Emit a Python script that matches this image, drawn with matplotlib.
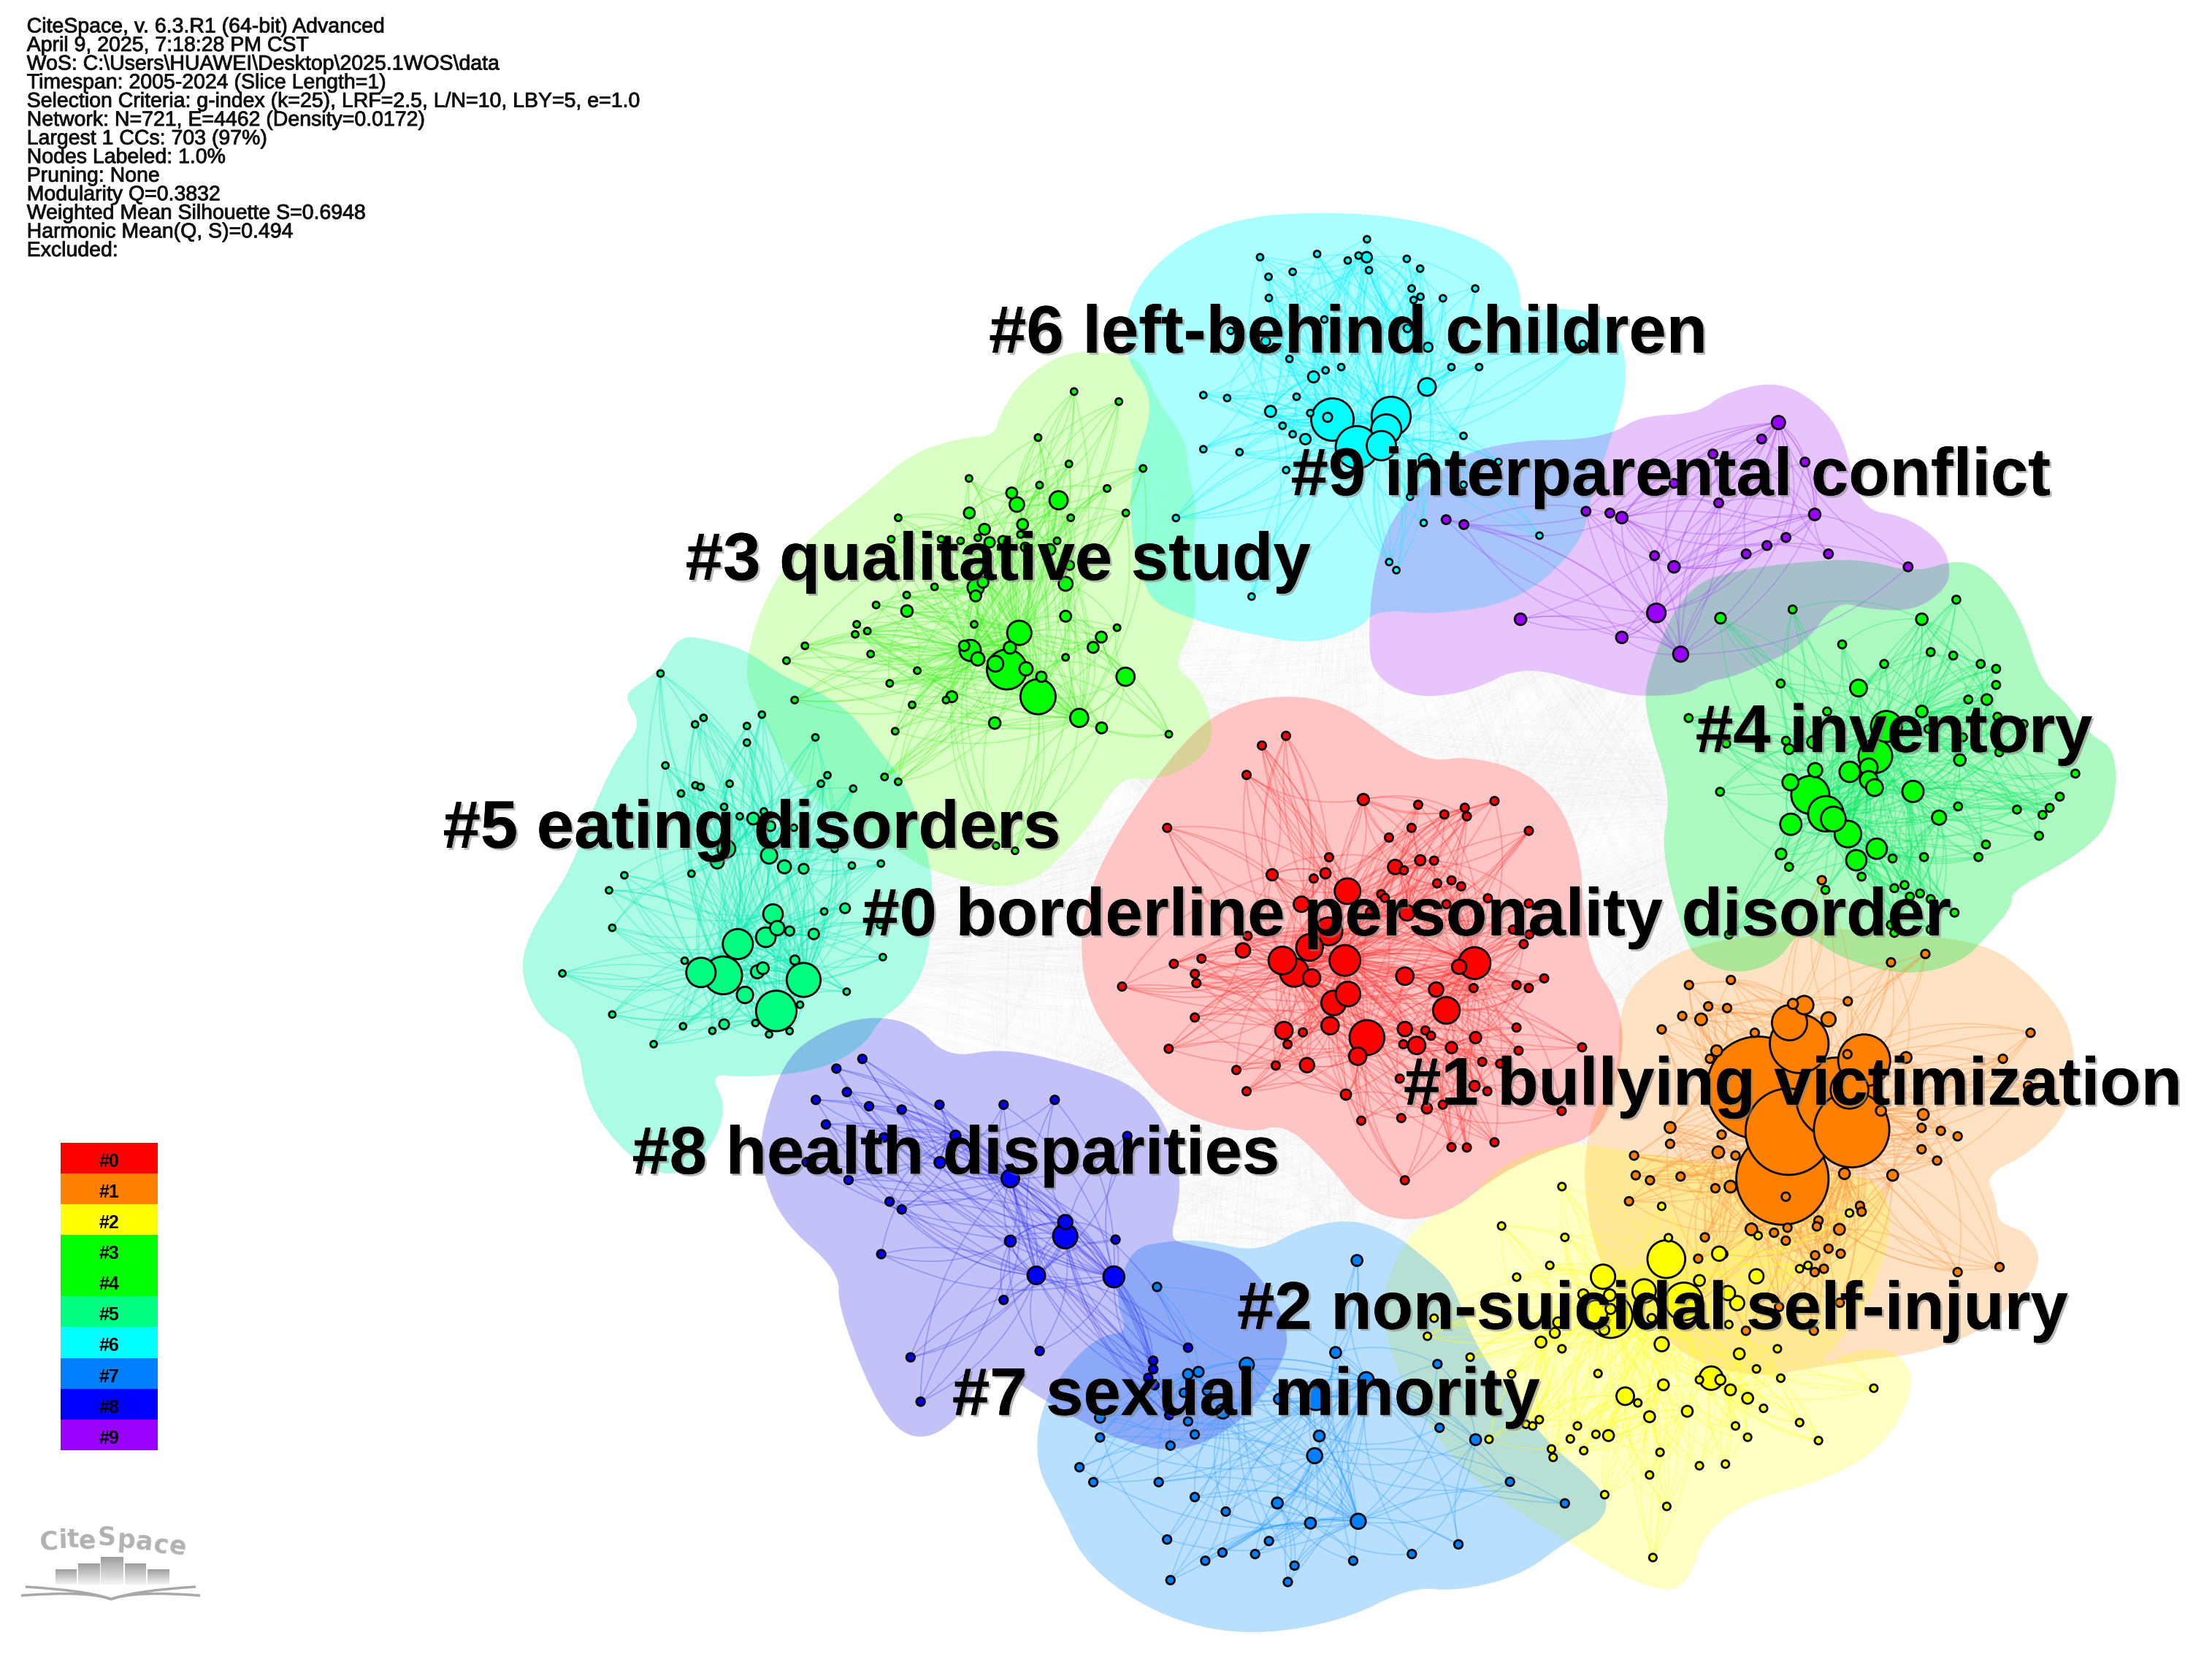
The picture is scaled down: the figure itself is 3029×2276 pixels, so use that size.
import numpy as np
import matplotlib
matplotlib.use('Agg')
import matplotlib.pyplot as plt
import matplotlib.patheffects as pe
from matplotlib.collections import PathCollection, PatchCollection
from matplotlib.patches import Circle, PathPatch, Rectangle
from matplotlib.path import Path

WIDTH, HEIGHT = 3029, 2276
DISP = WIDTH / 1568  # overview picture -> reference pixels

meta_lines = [
    'CiteSpace, v. 6.3.R1 (64-bit) Advanced',
    'April 9, 2025, 7:18:28 PM CST',
    'WoS: C:\\Users\\HUAWEI\\Desktop\\2025.1WOS\\data',
    'Timespan: 2005-2024 (Slice Length=1)',
    'Selection Criteria: g-index (k=25), LRF=2.5, L/N=10, LBY=5, e=1.0',
    'Network: N=721, E=4462 (Density=0.0172)',
    'Largest 1 CCs: 703 (97%)',
    'Nodes Labeled: 1.0%',
    'Pruning: None',
    'Modularity Q=0.3832',
    'Weighted Mean Silhouette S=0.6948',
    'Harmonic Mean(Q, S)=0.494',
    'Excluded:',
]

cluster_ids = ['#0', '#1', '#2', '#3', '#4', '#5', '#6', '#7', '#8', '#9']
node_colors = ['#ff0000', '#ff8000', '#ffff00', '#00ff00', '#00ff00',
               '#00ff80', '#00ffff', '#0080ff', '#0000ff', '#9900ff']
edge_colors = ['#ff3030', '#ff9030', '#ffff20', '#40f020', '#00e860',
               '#00e8b0', '#00f0ff', '#2098ff', '#3030f0', '#a040f0']
hull_colors = ['#ff0000', '#ff8200', '#ffff00', '#5bff08', '#00ec40',
               '#00f5b3', '#00ffff', '#008ffa', '#0000e8', '#9e0cf1']
hull_alpha = [.23, .23, .23, .23, .33, .33, .33, .28, .24, .24]

# cluster labels: text, left edge and baseline in the overview picture
label_text = ['#0 borderline personality disorder', '#1 bullying victimization',
              '#2 non-suicidal self-injury', '#3 qualitative study', '#4 inventory',
              '#5 eating disorders', '#6 left-behind children', '#7 sexual minority',
              '#8 health disparities', '#9 interparental conflict']
label_x = [611, 995, 877, 486, 1202, 314, 701, 675, 448, 915]
label_y = [663, 783, 942, 411, 533, 601, 250, 1003, 832, 351]

# hull outlines
hull0 = [(905,492),(950,498),(990,528),(1016,540),(1038,536),(1078,545),(1105,568),(1120,605),(1122,640),(1127,681),(1147,710),(1152,745),(1135,805),(1096,816),(1060,834),(1027,860),(994,866),(965,856),(943,827),(911,796),(885,804),(830,787),(798,750),(772,712),(765,670),(772,630),(795,585),(835,530),(865,503)]
hull1 = [(1194,671),(1158,695),(1147,722),(1148,760),(1128,790),(1122,832),(1128,876),(1140,909),(1176,945),(1202,966),(1247,977),(1292,968),(1381,957),(1431,924),(1448,894),(1437,873),(1416,867),(1415,850),(1407,833),(1440,817),(1467,787),(1472,752),(1464,719),(1434,686),(1404,668),(1351,662),(1306,658),(1262,660)]
hull2 = [(1128,811),(1190,822),(1260,830),(1324,832),(1341,853),(1338,885),(1322,930),(1295,960),(1292,968),(1324,954),(1348,960),(1358,983),(1336,1025),(1295,1049),(1238,1064),(1208,1087),(1199,1117),(1184,1130),(1149,1117),(1112,1093),(1060,1062),(1024,1028),(990,975),(978,925),(990,890),(1009,864),(1039,853),(1063,826),(1098,812)]
hull3 = [(758,248),(795,251),(810,257),(820,284),(841,312),(842,334),(849,362),(844,394),(849,426),(844,448),(832,473),(848,484),(860,512),(857,533),(835,548),(814,553),(794,551),(770,590),(724,634),(658,618),(628,597),(593,581),(559,548),(538,505),(526,475),(543,420),(571,383),(612,351),(646,321),(683,310),(705,309),(709,293),(726,267)]
hull4 = [(1389,396),(1411,406),(1433,438),(1447,483),(1464,497),(1480,520),(1501,532),(1498,581),(1474,606),(1426,631),(1426,643),(1410,662),(1390,683),(1351,692),(1306,680),(1280,662),(1274,662),(1259,683),(1229,691),(1202,680),(1193,662),(1177,601),(1185,564),(1166,507),(1167,478),(1194,416),(1235,403),(1292,397),(1323,397),(1357,406)]
hull5 = [(481,450),(505,454),(529,461),(554,479),(582,491),(605,507),(623,532),(644,558),(660,615),(661,636),(658,682),(642,710),(623,723),(614,740),(582,759),(529,764),(503,761),(514,782),(510,802),(495,826),(470,835),(440,815),(415,780),(410,738),(383,724),(368,689),(376,659),(404,618),(418,578),(438,535),(455,514),(443,495),(448,488),(468,475)]
hull6 = [(802,206),(837,171),(883,153),(950,150),(1005,156),(1047,169),(1070,185),(1078,208),(1077,222),(1102,218),(1135,222),(1151,243),(1153,275),(1144,305),(1128,351),(1121,386),(1079,425),(1022,436),(975,432),(964,446),(929,457),(883,449),(848,440),(818,428),(810,411),(802,383),(801,336),(820,284),(795,251)]
hull7 = [(891,888),(924,870),(959,864),(989,875),(1009,891),(1030,909),(1045,954),(1092,1019),(1140,1058),(1137,1078),(1110,1093),(1078,1117),(1033,1128),(1000,1125),(950,1150),(880,1160),(820,1145),(770,1110),(751,1070),(734,1039),(737,999),(757,967),(781,946),(800,945),(790,920),(802,885),(826,880),(853,879)]
hull8 = [(614,720),(648,725),(672,750),(710,743),(757,753),(805,769),(826,796),(836,827),(836,854),(829,878),(841,882),(885,891),(916,943),(906,973),(879,1010),(835,1031),(790,1020),(751,999),(722,981),(700,965),(680,1007),(650,1023),(624,1002),(594,928),(595,901),(555,867),(540,830),(539,802),(556,751),(582,731)]
hull9 = [(1204,293),(1223,278),(1260,270),(1288,285),(1307,309),(1318,361),(1351,366),(1376,384),(1383,403),(1379,418),(1357,433),(1325,432),(1301,426),(1279,458),(1229,480),(1210,483),(1197,492),(1160,494),(1135,488),(1081,471),(1041,491),(1001,495),(973,478),(970,453),(973,409),(987,363),(1033,322),(1079,312),(1116,312),(1144,307),(1163,295)]

# nodes: (x, y, radius) for the labelled sizes, (x, y) for the small ones,
# each group read in the crop given by its frame (left, top, width, height)
frame0 = (1500, 1000, 1100, 800)
big0 = [(530,825,34),(740,625,31),(710,635,14),(487,618,30),(365,618,27),(418,583,26),(388,650,28),(465,732,24),(493,708,24),(685,752,26),(455,540,27),(492,432,25),(604,660,17),(665,696,14),(422,665,17),(458,793,17),(368,806,17),(604,802,14),(627,846,17),(512,875,17),(413,899,14),(742,825,11),(288,591,14),(345,388,11),(402,467,15),(585,367,14),(608,490,15),(523,186,11),(634,349,10),(449,384,10),(695,852,11),(489,978,10),(647,1015,10),(740,955,10),(540,490,12)]
small0 = [(372,15),(325,41),(295,120),(140,262),(630,200),(681,226),(721,208),(725,231),(779,190),(846,270),(573,288),(617,262),(456,341),(661,350),(602,376),(426,398),(667,411),(695,403),(714,419),(558,440),(565,450),(766,451),(685,467),(846,465),(815,535),(847,548),(836,574),(297,552),(207,613),(153,627),(194,654),(197,679),(52,688),(876,666),(822,684),(846,692),(738,692),(194,771),(822,798),(405,811),(375,843),(601,843),(644,806),(655,820),(826,860),(950,851),(143,855),(275,912),(352,900),(755,890),(790,895),(594,935),(295,969),(765,969),(678,1005),(910,1022),(519,1048),(597,1041),(695,1119),(725,1120),(779,1106),(604,1208)]

frame1 = (1950, 1280, 900, 900)
big1 = [(797,365,122),(855,582,110),(985,390,97),(1020,465,90),(870,470,103),(1050,300,62),(895,260,70),(872,210,42),(1015,370,45),(907,168,22),(965,202,17),(880,165,12),(1090,420,12),(1010,285,10),(1150,293,13),(661,202,14),(698,277,13),(587,460,13),(702,519,14),(731,601,14),(1003,570,13),(1118,574,13),(1191,429,13),(781,703,14),(991,703,13)]
small1 = [(632,120),(732,108),(567,226),(616,194),(678,171),(723,175),(789,234),(682,296),(1011,159),(1447,234),(1381,296),(1441,360),(1196,46),(1114,66),(710,477),(587,499),(501,527),(743,527),(505,574),(539,586),(612,577),(695,605),(489,636),(670,722),(654,773),(714,762),(835,711),(867,699),(863,730),(863,625),(941,682),(937,696),(933,765),(965,749),(994,761),(954,797),(932,805),(1040,647),(1044,661),(1187,461),(1233,468),(1273,481),(1187,512),(1224,539),(1273,805),(1373,793),(768,945),(930,945),(847,888),(992,878),(637,887),(949,-130)]

frame2 = (1950, 1280, 900, 900)
big2 = [(578,774,45),(427,816,29),(445,910,52),(410,900,28),(525,850,28),(620,875,45),(725,855,17),(747,879,17),(685,1058,28),(480,1101,21),(704,761,17),(793,815,17),(657,825,13),(567,977,17),(752,1000,13),(571,1074,13),(731,1086,13),(772,1106,13),(628,1137,13),(538,1150,13),(440,1195,13),(279,972,13),(312,950,12),(707,1062,12),(443,860,14),(380,858,12),(320,925,12),(445,893,12),(543,915,10),(430,943,12)]
small2 = [(329,601),(567,648),(185,695),(336,722),(583,723),(797,718),(300,789),(221,817),(896,797),(916,789),(1015,664),(24,915),(8,958),(110,1008),(209,1048),(329,988),(415,1047),(657,1062),(793,1036),(851,1058),(843,988),(727,930),(1073,1082),(510,1117),(810,1130),(275,1157),(243,1168),(259,1172),(366,1172),(155,1204),(349,1203),(410,1192),(743,1172),(896,1164),(772,1199),(941,1207),(304,1227),(308,1247),(381,1231),(563,1235),(657,1267),(719,1263),(538,1289),(431,1336),(579,1364),(546,1486)]

frame3 = (1050, 450, 650, 650)
big3 = [(896,1216,58),(793,1126,66),(834,1005,40),(1185,1150,30),(1032,1286,30),(964,567,30),(803,1054,20),(755,1107,26),(856,1124,22),(907,1150,17),(697,1091,22),(672,1063,35),(652,1048,17),(690,855,27),(714,838,18),(690,883,18),(987,843,23),(987,950,18),(463,933,19),(826,581,24),(809,543,18),(669,609,18),(845,647,18),(719,663,18),(736,706,17),(1105,1019,18),(1078,1053,18),(753,1303,19),(1106,1319,18),(611,1216,18),(854,722,15),(935,730,18),(1000,782,15),(780,700,15)]
small3 = [(1015,208),(1163,241),(896,360),(998,447),(1243,462),(668,495),(901,517),(1124,528),(434,625),(1004,625),(1186,609),(838,680),(697,691),(411,696),(576,696),(640,701),(959,701),(554,853),(462,880),(361,913),(685,977),(297,977),(332,999),(292,1010),(1157,988),(126,1048),(343,1075),(987,1086),(65,1097),(497,1130),(406,1172),(92,1227),(592,1227),(480,1243),(424,1330),(1328,1340),(389,1481),(434,1497),(757,1708),(820,1725)]

frame4 = (1950, 550, 950, 750)
big4 = [(873,1126,43),(908,1180,40),(925,1195,28),(1020,1015,38),(1045,930,35),(962,1060,23),(1005,1047,20),(1005,1083,20),(1018,1105,19),(884,1055,16),(828,1090,18),(829,1210,24),(958,1238,30),(1023,1280,23),(977,1313,23),(1105,1116,24),(1164,1191,16),(982,820,19),(1211,1026,13),(1125,623,13),(670,620,12),(1272,853,12),(1125,887,13),(807,1295,12),(825,995,11),(880,975,14)]
small4 = [(1203,567),(833,595),(945,695),(1145,717),(1196,727),(1040,751),(1258,751),(1293,765),(806,807),(1293,811),(1230,853),(911,887),(598,906),(1296,902),(1355,923),(1140,937),(1218,961),(683,979),(818,971),(1300,1004),(1472,1065),(669,1117),(1437,1131),(1414,1163),(1340,1168),(1398,1183),(1207,1159),(1390,1243),(1270,1268),(1130,1304),(1253,1304),(1059,1308),(825,1332),(989,1360),(1063,1393),(1086,1384),(907,1398),(1121,1408),(1098,1417),(1145,1424),(1199,1463),(1055,1498),(1063,1521),(689,1526),(1145,1511)]

frame5 = (700, 850, 700, 700)
big5 = [(813,1197,62),(897,1102,52),(650,1088,58),(582,1079,45),(695,992,46),(803,900,30),(781,971,30),(816,943,22),(755,1077,20),(772,1066,18),(717,1148,25),(791,720,25),(838,755,20),(897,761,15),(928,961,16),(653,1238,15),(660,700,27),(632,740,20),(742,607,18),(1024,882,15),(870,1041,14),(854,952,14),(795,630,15)]
small5 = [(458,162),(590,298),(564,318),(723,323),(769,288),(723,374),(473,444),(565,505),(581,510),(670,500),(521,530),(653,571),(701,600),(775,585),(950,500),(970,474),(1049,515),(1045,751),(1134,745),(867,635),(992,700),(347,781),(553,776),(300,827),(310,942),(960,892),(1132,933),(532,1043),(157,1082),(1140,1032),(1029,1138),(886,1178),(310,1208),(527,1244),(617,1258),(749,1234),(854,1259),(791,1269),(437,1299),(933,358)]

frame6 = (1550, 300, 700, 700)
big6 = [(615,615,65),(690,700,65),(795,605,60),(780,645,46),(765,695,45),(905,515,27),(425,590,17),(557,484,17),(532,675,16),(600,608,14),(900,740,20),(720,117,16),(845,335,12),(908,393,14),(410,375,14)]
small6 = [(721,62),(568,107),(393,117),(695,112),(662,127),(843,122),(884,152),(727,157),(493,162),(419,177),(858,213),(885,238),(864,248),(954,243),(1053,213),(420,242),(590,308),(303,343),(483,429),(594,464),(642,454),(980,454),(1065,454),(505,545),(219,540),(292,549),(547,595),(462,634),(493,660),(219,706),(330,715),(1017,665),(473,770),(1124,745),(853,852),(1017,815),(135,917),(895,932),(1250,971),(789,1052),(811,1077),(367,1158),(1383,383)]

frame7 = (1050, 1420, 900, 800)
big7 = [(1408,600,13),(1357,847,13),(1145,880,17),(1005,905,12),(1030,899,12),(1430,920,18),(1310,970,28),(1222,972,12),(1088,1005,17),(795,1022,12),(1318,1071,13),(1307,1124,18),(1218,1251,13),(1297,1305,13),(1411,1300,18),(1691,1081,13)]
small7 = [(931,671),(1050,950),(995,955),(1005,1032),(795,1075),(1021,1067),(963,1097),(746,1155),(779,1195),(935,1195),(1021,1235),(1095,1274),(955,1349),(1198,1353),(1087,1384),(1165,1388),(1046,1406),(1399,1406),(1539,1388),(1259,1419),(963,1458),(1243,1463),(1600,878),(1605,1049),(1773,1194),(1904,1252),(1650,1362)]

frame8 = (1050, 1420, 900, 800)
big8 = [(712,535,29),(828,644,25),(643,640,21),(581,380,21),(712,497,17),(581,548,13),(413,337,13),(450,265,12)]
small8 = [(228,59),(166,85),(191,148),(117,169),(244,186),(322,195),(412,182),(565,182),(687,169),(141,235),(279,270),(860,266),(95,336),(195,384),(293,442),(322,463),(832,544),(273,583),(565,706),(651,843),(343,860),(367,979),(1005,834),(922,869),(922,892),(910,915),(925,935),(960,1015)]

frame9 = (1950, 550, 950, 750)
big9 = [(525,605,21),(580,723,17),(801,60,15),(883,323,13),(447,332,13),(565,473,13),(218,623,13),(447,675,13)]
small9 = [(763,107),(653,150),(861,173),(565,234),(666,290),(366,314),(420,319),(50,338),(90,352),(818,389),(775,412),(728,436),(914,436),(521,441),(1094,473)]

frames = [frame0, frame1, frame2, frame3, frame4, frame5, frame6, frame7, frame8, frame9]
bigs = [big0, big1, big2, big3, big4, big5, big6, big7, big8, big9]
smalls = [small0, small1, small2, small3, small4, small5, small6, small7, small8, small9]
hulls = [hull0, hull1, hull2, hull3, hull4, hull5, hull6, hull7, hull8, hull9]
small_radius = [8, 10, 9, 11, 9, 10, 10, 10, 10, 10]
near_links = [4, 4, 4, 4, 4, 4, 4, 2, 2, 2]
far_links = [3, 3, 3, 3, 3, 3, 3, 2, 2, 2]

# logo pieces
logo_letters = ['C', 'i', 't', 'e', 'S', 'p', 'a', 'c', 'e']
logo_x = [66, 86, 100, 119, 146, 172, 197, 220, 243]
logo_y = [2112, 2110, 2109, 2110, 2105, 2110, 2112, 2116, 2118]
logo_rot = [3, 2, 1, 1, 0, -3, -6, -9, -11]
logo_bar_left = [76, 107, 138, 171, 202]
logo_bar_right = [105, 137, 169, 200, 232]
logo_bar_top = [2149, 2141, 2132, 2141, 2149]


def to_px(points, frame):
    left, top, w, h = frame
    pts = np.array(points, dtype=float)
    out = np.empty_like(pts)
    out[:, 0] = left + pts[:, 0] * w / 1568
    out[:, 1] = top + pts[:, 1] * h / 1568
    if pts.shape[1] == 3:
        out[:, 2] = pts[:, 2] * w / 1568
    return out


def smooth(points, rounds=3):
    # corner cutting so the hull outlines come out round
    pts = np.array(points, dtype=float)
    for _ in range(rounds):
        nxt = np.roll(pts, -1, axis=0)
        pts = np.column_stack([.75 * pts + .25 * nxt, .25 * pts + .75 * nxt]).reshape(-1, 2)
    return pts


def arc(a, b, bend):
    mid = (a + b) / 2
    d = b - a
    ctrl = mid + bend * np.array([-d[1], d[0]])
    return Path([a, ctrl, b], [Path.MOVETO, Path.CURVE3, Path.CURVE3])


plt.rcParams['font.family'] = ['Liberation Sans', 'DejaVu Sans']
fig = plt.figure(figsize=(WIDTH / 100, HEIGHT / 100), dpi=100)
ax = fig.add_axes([0, 0, 1, 1])
ax.set_xlim(0, WIDTH)
ax.set_ylim(HEIGHT, 0)
ax.axis('off')

nodes = []
for c in range(10):
    big = to_px(bigs[c], frames[c])
    small = to_px(smalls[c], frames[c])
    r = small_radius[c] * frames[c][2] / 1568
    small = np.column_stack([small, np.full(len(small), r)])
    nodes.append((big, small))

# faint grey links between clusters, below the hulls
grey = []
for i in range(10):
    for j in range(i + 1, 10):
        for a in nodes[i][0][:9, :2]:
            for b in nodes[j][0][:9, :2]:
                grey.append(arc(a, b, .06))
ax.add_collection(PathCollection(grey, facecolors='none', edgecolors='#808080',
                                 linewidths=.6, alpha=.025, zorder=1))

# white under the hulls keeps their tints clean of the grey links
for c in range(10):
    ax.add_patch(PathPatch(Path(smooth(hulls[c]) * DISP), facecolor='white',
                           edgecolor='none', zorder=1.5))
for c in range(10):
    ax.add_patch(PathPatch(Path(smooth(hulls[c]) * DISP), facecolor=hull_colors[c],
                           edgecolor='none', alpha=hull_alpha[c], zorder=2))

# links inside a cluster: every node to its closest hubs and to the largest ones
for c in range(10):
    big, small = nodes[c]
    everyone = np.vstack([big, small])[:, :2]
    hubs = big[:, :2]
    by_size = np.argsort(-big[:, 2])[:far_links[c] + 3]
    links = []
    for i, p in enumerate(everyone):
        dist = np.hypot(*(hubs - p).T)
        near = list(np.argsort(dist)[1:near_links[c] + 1])
        far = [h for h in by_size[(i % 3):] if h not in near][:far_links[c]]
        for n, h in enumerate(near + far):
            bend = .2 if (i + n) % 2 else -.2
            links.append(arc(p, hubs[h], bend))
    ax.add_collection(PathCollection(links, facecolors='none', edgecolors=edge_colors[c],
                                     linewidths=1.25, alpha=.3, zorder=3))

for c in range(10):
    big, small = nodes[c]
    every = np.vstack([big, small])
    every = every[np.argsort(-every[:, 2])]
    circles = [Circle((x, y), r) for x, y, r in every]
    ax.add_collection(PatchCollection(circles, facecolors=node_colors[c], edgecolors='black',
                                      linewidths=2.0, zorder=4 + c * .01))

shadow = [pe.withSimplePatchShadow(offset=(2, -2), shadow_rgbFace='#808080', alpha=.55), pe.Normal()]
for text, x, y in zip(label_text, label_x, label_y):
    ax.text(x * DISP, y * DISP, text, fontsize=66.4, fontweight='bold', color='black',
            ha='left', va='baseline', path_effects=shadow, zorder=6)

for i, line in enumerate(meta_lines):
    ax.text(19 * DISP, (23 + i * 13.22) * DISP, line, fontsize=20.5, color='#111111',
            ha='left', va='baseline', zorder=7,
            path_effects=[pe.withStroke(linewidth=.6, foreground='#111111')])

# colour key
key_top, key_step = 810 * DISP, 21.8 * DISP
for i, (name, col) in enumerate(zip(cluster_ids, node_colors)):
    ax.add_patch(Rectangle((43 * DISP, key_top + i * key_step), 69 * DISP, key_step,
                           facecolor=col, edgecolor='none', zorder=5))
    ax.text(77.5 * DISP, key_top + (i + .5) * key_step + 5, name, fontsize=18, fontweight='bold',
            color='black', ha='center', va='center', zorder=6)

# logo
for ch, x, y, rot in zip(logo_letters, logo_x, logo_y, logo_rot):
    ax.text(x, y, ch, fontsize=25, fontweight='bold', color='#b2b2b2', family='DejaVu Sans',
            rotation=rot, ha='center', va='center', zorder=5)
fade = np.linspace(.62, .95, 32).reshape(-1, 1)
for l, r, t in zip(logo_bar_left, logo_bar_right, logo_bar_top):
    ax.imshow(fade, extent=(l, r, 2170, t), cmap='gray', vmin=0, vmax=1, aspect='auto', zorder=5)
ax.set_xlim(0, WIDTH)
ax.set_ylim(HEIGHT, 0)
for sx, sy in [(35, 2173), (29, 2185)]:
    ax.add_patch(PathPatch(Path([(sx, sy), (120, 2178), (152, 2190)], [Path.MOVETO, Path.CURVE3, Path.CURVE3]),
                           facecolor='none', edgecolor='#a8a8a8', lw=2.5, zorder=5))
    ax.add_patch(PathPatch(Path([(303 - sx, sy), (185, 2178), (152, 2190)], [Path.MOVETO, Path.CURVE3, Path.CURVE3]),
                           facecolor='none', edgecolor='#a8a8a8', lw=2.5, zorder=5))

fig.savefig('out.png', dpi=100, facecolor='white')
